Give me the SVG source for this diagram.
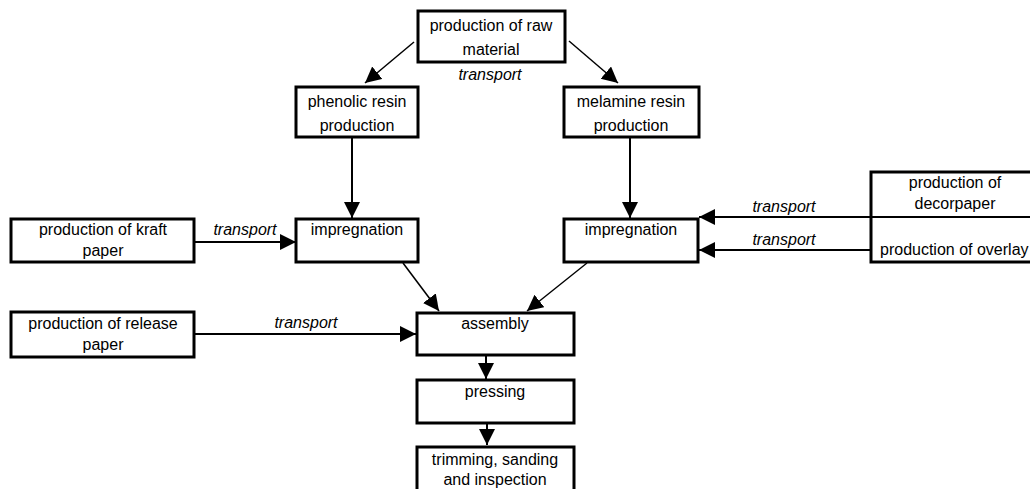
<svg xmlns="http://www.w3.org/2000/svg" width="1030" height="489" viewBox="0 0 1030 489">
<defs>
<style>
.box{fill:#fff;stroke:#000;stroke-width:3}
.t{font-family:"Liberation Sans",Arial,sans-serif;font-size:16px;fill:#000;text-anchor:middle}
.i{font-family:"Liberation Sans",Arial,sans-serif;font-size:16px;font-style:italic;fill:#000;text-anchor:middle}
.c{stroke:#000;fill:none}
</style>
<marker id="ah" markerUnits="userSpaceOnUse" markerWidth="18" markerHeight="18" refX="16" refY="8" orient="auto">
<path d="M0,0 L16,8 L0,16 z" fill="#000"/>
</marker>
</defs>
<rect width="1030" height="489" fill="#fff"/>
<g id="connectors">
<line class="c" stroke-width="1.5" x1="414" y1="42" x2="365" y2="83" marker-end="url(#ah)"/>
<line class="c" stroke-width="1.5" x1="569" y1="41" x2="618" y2="83" marker-end="url(#ah)"/>
<line class="c" stroke-width="2" x1="352" y1="138" x2="352" y2="218" marker-end="url(#ah)"/>
<line class="c" stroke-width="2" x1="630" y1="138" x2="630" y2="218" marker-end="url(#ah)"/>
<line class="c" stroke-width="2" x1="194" y1="242" x2="296" y2="242" marker-end="url(#ah)"/>
<line class="c" stroke-width="2" x1="871" y1="217" x2="699" y2="217" marker-end="url(#ah)"/>
<line class="c" stroke-width="2" x1="871" y1="250" x2="699" y2="250" marker-end="url(#ah)"/>
<line class="c" stroke-width="1.5" x1="403" y1="263" x2="439" y2="311" marker-end="url(#ah)"/>
<line class="c" stroke-width="1.5" x1="587" y1="263" x2="527" y2="311" marker-end="url(#ah)"/>
<line class="c" stroke-width="2" x1="194" y1="334" x2="416" y2="334" marker-end="url(#ah)"/>
<line class="c" stroke-width="2" x1="486" y1="355" x2="486" y2="379" marker-end="url(#ah)"/>
<line class="c" stroke-width="2" x1="487" y1="423" x2="487" y2="445" marker-end="url(#ah)"/>
<text class="i" x="490" y="80">transport</text>
<text class="i" x="245" y="235">transport</text>
<text class="i" x="306" y="328">transport</text>
<text class="i" x="784" y="212">transport</text>
<text class="i" x="784" y="245">transport</text>
</g>
<g id="raw">
<rect class="box" x="418" y="11" width="147" height="51"/>
<text class="t" x="491" y="31">production of raw</text>
<text class="t" x="491" y="55">material</text>
</g>
<g id="phenolic">
<rect class="box" x="296" y="87" width="122" height="50"/>
<text class="t" x="357" y="107">phenolic resin</text>
<text class="t" x="357" y="131">production</text>
</g>
<g id="melamine">
<rect class="box" x="564" y="87" width="135" height="50"/>
<text class="t" x="631" y="107">melamine resin</text>
<text class="t" x="631" y="131">production</text>
</g>
<g id="kraft">
<rect class="box" x="11" y="219" width="183" height="43"/>
<text class="t" x="103" y="235">production of kraft</text>
<text class="t" x="103" y="256">paper</text>
</g>
<g id="impregnation-left">
<rect class="box" x="296" y="219" width="122" height="43"/>
<text class="t" x="357" y="235">impregnation</text>
</g>
<g id="impregnation-right">
<rect class="box" x="564" y="219" width="134" height="43"/>
<text class="t" x="631" y="235">impregnation</text>
</g>
<g id="decor-overlay">
<rect class="box" x="871" y="172" width="170" height="90"/>
<line x1="871" y1="217" x2="1041" y2="217" stroke="#000" stroke-width="2"/>
<text class="t" x="955" y="188">production of</text>
<text class="t" x="955" y="209">decorpaper</text>
<text class="t" x="880" y="255" style="text-anchor:start">production of overlay</text>
</g>
<g id="release">
<rect class="box" x="11" y="312" width="183" height="45"/>
<text class="t" x="103" y="329">production of release</text>
<text class="t" x="103" y="350">paper</text>
</g>
<g id="assembly">
<rect class="box" x="417" y="313" width="157" height="42"/>
<text class="t" x="495" y="329">assembly</text>
</g>
<g id="pressing">
<rect class="box" x="417" y="380" width="157" height="43"/>
<text class="t" x="495" y="397">pressing</text>
</g>
<g id="trimming">
<rect class="box" x="417" y="447" width="157" height="50"/>
<text class="t" x="495" y="465">trimming, sanding</text>
<text class="t" x="495" y="485">and inspection</text>
</g>
</svg>
